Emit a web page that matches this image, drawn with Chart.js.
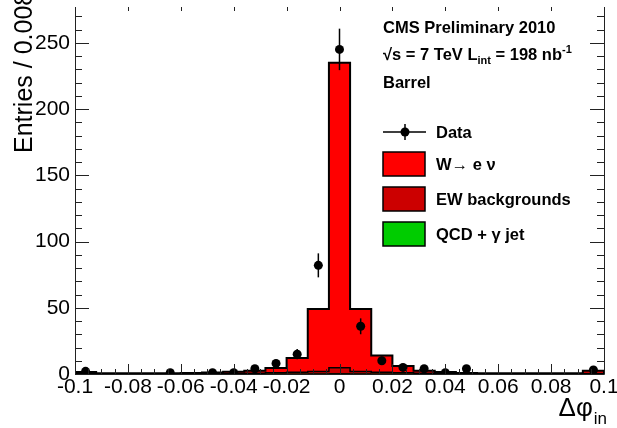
<!DOCTYPE html>
<html>
<head>
<meta charset="utf-8">
<script src="https://cdn.jsdelivr.net/npm/chart.js@4.4.0/dist/chart.umd.min.js"></script>
<style>
  html, body { margin: 0; padding: 0; background: #fff; }
  #wrap { width: 617px; height: 428px; }
</style>
</head>
<body>
<div id="wrap"><canvas id="plot" width="617" height="428"></canvas></div>
<script>
// histogram binning in delta phi_in (25 bins)
var binEdges = [-0.1, -0.092, -0.084, -0.076, -0.068, -0.06, -0.052, -0.044, -0.036, -0.028, -0.02, -0.012, -0.004,
                0.004, 0.012, 0.02, 0.028, 0.036, 0.044, 0.052, 0.06, 0.068, 0.076, 0.084, 0.092, 0.1];

// MC components per bin
var wenu   = [1.3, 0.5, 0.5, 0.5, 0.5, 0.5, 0.9, 1.3, 2.0, 3.6, 10.7, 47.2, 230.3, 47.2, 12.7, 5.1, 2.0, 1.1, 0.4, 0.4, 0.5, 0.5, 0.5, 0.5, 2.2];
var ewBkg  = [0.2, 0.1, 0.1, 0.1, 0.1, 0.2, 0.3, 0.4, 0.5, 0.8, 1.2, 1.6, 4.4, 1.6, 1.2, 0.8, 0.5, 0.4, 0.3, 0.2, 0.1, 0.1, 0.1, 0.1, 0.3];
var qcdBkg = [0, 0, 0, 0, 0, 0, 0, 0, 0, 0.1, 0.1, 0.2, 0.3, 0.2, 0.1, 0.1, 0, 0, 0, 0, 0, 0, 0, 0, 0];

// data (bin centres with entries)
var dataX = [-0.096, -0.064, -0.048, -0.04, -0.032, -0.024, -0.016, -0.008, 0, 0.008, 0.016, 0.024, 0.032, 0.04, 0.048, 0.096];
var dataY = [2, 1, 1, 1, 4, 8, 15, 82, 245, 36, 10, 5, 4, 1, 4, 3];

var xTicks = [-0.1, -0.08, -0.06, -0.04, -0.02, 0, 0.02, 0.04, 0.06, 0.08, 0.1];
var yTicks = [0, 50, 100, 150, 200, 250];

var FONT = '"Liberation Sans", Arial, Helvetica, sans-serif';

// stack the components (qcd at the bottom)
function addUp(a, b) {
  return a.map(function(v, i) { return v + b[i]; });
}
var stackQcd = qcdBkg.slice();
var stackEw = addUp(stackQcd, ewBkg);
var stackAll = addUp(stackEw, wenu);

// step outline: value of bin i is held from its low edge to its high edge
function stepPoints(values) {
  var pts = [{ x: binEdges[0], y: 0 }];
  for (var i = 0; i < values.length; i++) {
    pts.push({ x: binEdges[i], y: values[i] });
  }
  pts.push({ x: binEdges[binEdges.length - 1], y: values[values.length - 1] });
  pts.push({ x: binEdges[binEdges.length - 1], y: 0 });
  return pts;
}

function histDataset(label, values, color, order, lw) {
  return {
    type: 'line',
    label: label,
    data: stepPoints(values),
    stepped: true,
    fill: 'origin',
    backgroundColor: color,
    borderColor: '#000',
    borderWidth: lw,
    pointRadius: 0,
    order: order
  };
}

// ROOT-like frame: inward ticks, error bars, labels
var rootStyle = {
  id: 'rootStyle',
  afterDatasetsDraw: function(chart) {
    var ctx = chart.ctx;
    var meta = chart.getDatasetMeta(0);
    var ys = chart.scales.y;
    ctx.save();
    ctx.strokeStyle = '#000';
    ctx.lineWidth = 1.5;
    meta.data.forEach(function(pt, i) {
      var v = dataY[i];
      var err = Math.sqrt(v);
      ctx.beginPath();
      ctx.moveTo(pt.x, ys.getPixelForValue(v + err));
      ctx.lineTo(pt.x, ys.getPixelForValue(Math.max(0, v - err)));
      ctx.stroke();
    });
    ctx.restore();
  },
  afterDraw: function(chart) {
    var ctx = chart.ctx;
    var a = chart.chartArea;
    var xs = chart.scales.x;
    var ys = chart.scales.y;
    var i, px, py;
    ctx.save();

    // axis lines
    ctx.strokeStyle = '#222';
    ctx.lineWidth = 1;
    ctx.beginPath();
    ctx.moveTo(a.left + 0.5, a.top);
    ctx.lineTo(a.left + 0.5, a.bottom + 0.5);
    ctx.lineTo(a.right + 0.5, a.bottom + 0.5);
    ctx.lineTo(a.right + 0.5, a.top);
    ctx.stroke();

    // x ticks every 0.005, long ones every 0.02
    ctx.beginPath();
    for (i = -20; i <= 20; i++) {
      px = Math.round(xs.getPixelForValue(i * 0.005)) + 0.5;
      var major = (i % 4 === 0);
      ctx.moveTo(px, a.bottom);
      ctx.lineTo(px, a.bottom - (major ? 10 : 5));
      if (major) {
        ctx.moveTo(px, a.top);
        ctx.lineTo(px, a.top + 4);
      }
    }
    // y ticks every 10, long ones every 50
    for (i = 0; i <= 27; i++) {
      py = Math.round(ys.getPixelForValue(i * 10)) + 0.5;
      var len = (i % 5 === 0) ? 14 : 7;
      ctx.moveTo(a.left, py);
      ctx.lineTo(a.left + len, py);
      ctx.moveTo(a.right, py);
      ctx.lineTo(a.right - len, py);
    }
    ctx.stroke();

    ctx.fillStyle = '#000';

    // axis titles
    ctx.save();
    ctx.translate(32, 153);
    ctx.rotate(-Math.PI / 2);
    ctx.font = '25px ' + FONT;
    ctx.textAlign = 'left';
    ctx.textBaseline = 'alphabetic';
    ctx.fillText('Entries / 0.008', 0, 0);
    ctx.restore();

    ctx.textAlign = 'left';
    ctx.textBaseline = 'alphabetic';
    var sub = 'in';
    ctx.font = '17px ' + FONT;
    var subW = ctx.measureText(sub).width;
    ctx.font = '26px ' + FONT;
    var mainW = ctx.measureText('\u0394\u03c6').width;
    var x0 = 606 - subW - mainW;
    ctx.fillText('\u0394\u03c6', x0, 416);
    ctx.font = '17px ' + FONT;
    ctx.fillText(sub, x0 + mainW + 1, 424);

    // labels
    var bold = 'bold 16.5px ' + FONT;
    var boldSmall = 'bold 11px ' + FONT;
    ctx.font = bold;
    ctx.fillText('CMS Preliminary 2010', 383, 33);

    var tx = 383;
    var parts = [
      ['\u221as = 7 TeV L', bold, 0],
      ['int', boldSmall, 4],
      [' = 198 nb', bold, 0],
      ['-1', boldSmall, -7]
    ];
    parts.forEach(function(p) {
      ctx.font = p[1];
      ctx.fillText(p[0], tx, 60 + p[2]);
      tx += ctx.measureText(p[0]).width;
    });

    ctx.font = bold;
    ctx.fillText('Barrel', 383, 88);

    // legend
    ctx.textBaseline = 'middle';
    ctx.strokeStyle = '#000';
    ctx.lineWidth = 1.5;
    ctx.beginPath();
    ctx.moveTo(383, 132);
    ctx.lineTo(426, 132);
    ctx.moveTo(405, 124);
    ctx.lineTo(405, 140);
    ctx.stroke();
    ctx.beginPath();
    ctx.arc(405, 132, 4.5, 0, Math.PI * 2);
    ctx.fill();
    ctx.font = bold;
    ctx.fillText('Data', 436, 133);

    var boxes = [
      ['#ff0000', 'W\u2192 e \u03bd', 152],
      ['#cc0000', 'EW backgrounds', 187],
      ['#00cc00', 'QCD + \u03b3 jet', 222]
    ];
    boxes.forEach(function(b) {
      ctx.fillStyle = b[0];
      ctx.fillRect(383, b[2], 42, 24);
      ctx.strokeStyle = '#000';
      ctx.lineWidth = 1.5;
      ctx.strokeRect(383, b[2], 42, 24);
      ctx.fillStyle = '#000';
      ctx.fillText(b[1], 436, b[2] + 13);
    });

    ctx.restore();
  }
};

var ctx = document.getElementById('plot').getContext('2d');
new Chart(ctx, {
  type: 'scatter',
  data: {
    datasets: [
      {
        type: 'scatter',
        label: 'Data',
        data: dataX.map(function(x, i) { return { x: x, y: dataY[i] }; }),
        backgroundColor: '#000',
        borderWidth: 0,
        pointRadius: 4.5,
        order: 0
      },
      histDataset('QCD + gamma jet', stackQcd, '#00cc00', 1, 1),
      histDataset('EW backgrounds', stackEw, '#cc0000', 2, 1.5),
      histDataset('W to e nu', stackAll, '#ff0000', 3, 2)
    ]
  },
  options: {
    responsive: false,
    devicePixelRatio: 1,
    animation: false,
    layout: { padding: { top: 7, right: 13, left: 0, bottom: 0 } },
    plugins: {
      legend: { display: false },
      tooltip: { enabled: false }
    },
    scales: {
      x: {
        type: 'linear',
        min: -0.1,
        max: 0.1,
        grid: { display: false, drawTicks: false },
        border: { display: false },
        afterBuildTicks: function(scale) {
          scale.ticks = xTicks.map(function(v) { return { value: v }; });
        },
        afterFit: function(scale) {
          scale.height = 54;
          scale.paddingLeft = 0;
          scale.paddingRight = 0;
        },
        ticks: {
          color: '#000',
          padding: 1,
          maxRotation: 0,
          autoSkip: false,
          font: { family: FONT, size: 21 },
          callback: function(v) { return String(Number(v.toFixed(3))); }
        }
      },
      y: {
        type: 'linear',
        min: 0,
        max: 277,
        grid: { display: false, drawTicks: false },
        border: { display: false },
        afterBuildTicks: function(scale) {
          scale.ticks = yTicks.map(function(v) { return { value: v }; });
        },
        afterFit: function(scale) {
          scale.width = 75;
          scale.paddingTop = 0;
          scale.paddingBottom = 0;
        },
        ticks: {
          color: '#000',
          padding: 5,
          font: { family: FONT, size: 21 }
        }
      }
    }
  },
  plugins: [rootStyle]
});
</script>
</body>
</html>
